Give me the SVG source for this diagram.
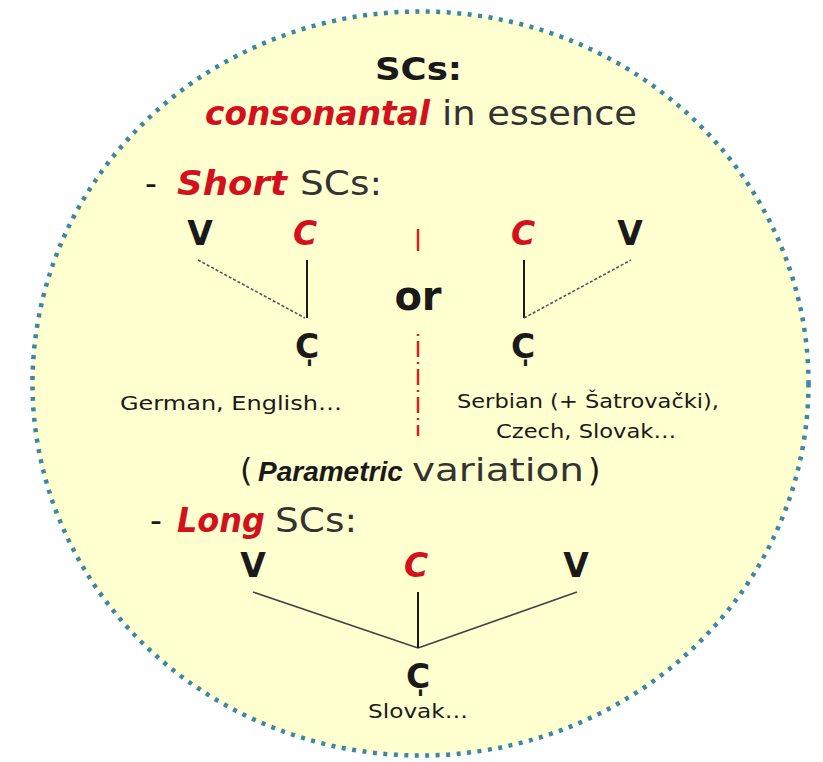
<svg xmlns="http://www.w3.org/2000/svg" width="823" height="762" viewBox="0 0 823 762">
<style>
text{font-family:"DejaVu Sans","Liberation Sans",sans-serif;fill:#1a1a1a}
.red{fill:#d4101c;font-weight:bold;font-style:italic}
.b{font-weight:bold}
.bi{font-weight:bold;font-style:italic;font-family:"Liberation Sans",sans-serif}
.reg{fill:#333}
.seg{font-size:33px;text-anchor:middle;font-weight:bold}
.sm{font-size:20px}
.solid{stroke:#1a1a1a;stroke-width:2;fill:none}
.dot{stroke:#555;stroke-width:1.6;stroke-dasharray:3 2;fill:none}
.thin{stroke:#444;stroke-width:1.6;fill:none}
</style>
<rect width="823" height="762" fill="#ffffff"/>
<g id="circle">
<ellipse cx="420.5" cy="383.5" rx="388" ry="372" fill="#ffffcf" stroke="#3c87a1" stroke-width="4.5" stroke-dasharray="4 6.5"/>
</g>
<g id="title">
<text x="375" y="80" font-size="32" class="b" textLength="87" lengthAdjust="spacingAndGlyphs">SCs:</text>
<text y="125" font-size="34"><tspan x="205" class="red" textLength="225" lengthAdjust="spacingAndGlyphs">consonantal</tspan><tspan x="442" class="reg" textLength="195" lengthAdjust="spacingAndGlyphs">in essence</tspan></text>
</g>
<g id="short-heading">
<text y="195" font-size="33"><tspan x="145">-</tspan><tspan x="177" class="red" textLength="110" lengthAdjust="spacingAndGlyphs">Short</tspan><tspan x="300" class="reg" textLength="82" lengthAdjust="spacingAndGlyphs">SCs:</tspan></text>
</g>
<g id="connectors">
<line class="dot" x1="198" y1="260" x2="305" y2="318"/>
<line class="solid" x1="307" y1="260" x2="307" y2="318"/>
<line class="solid" x1="524" y1="260" x2="524" y2="318"/>
<line class="dot" x1="524" y1="318" x2="631" y2="260"/>
<line x1="418" y1="229" x2="418" y2="251" stroke="#d4202a" stroke-width="2.5"/>
<line x1="418" y1="334" x2="418" y2="436" stroke="#d4202a" stroke-width="2.5" stroke-dasharray="2 5 16 5"/>
<line class="thin" x1="253" y1="592" x2="418" y2="648"/>
<line class="thin" x1="577" y1="592" x2="418" y2="648"/>
<line class="solid" x1="418" y1="592" x2="418" y2="648"/>
</g>
<g id="short-left">
<text class="seg" x="200" y="245">V</text>
<text class="seg red" x="305" y="245">C</text>
<text class="seg" x="307" y="358">C̩</text>
<text class="sm" x="120" y="410" textLength="222" lengthAdjust="spacingAndGlyphs">German, English…</text>
</g>
<g id="or">
<text x="418" y="310" font-size="40" text-anchor="middle" class="b">or</text>
</g>
<g id="short-right">
<text class="seg red" x="523" y="245">C</text>
<text class="seg" x="630" y="245">V</text>
<text class="seg" x="523" y="358">C̩</text>
<text class="sm" x="457" y="408" textLength="262" lengthAdjust="spacingAndGlyphs">Serbian (+ Šatrovački),</text>
<text class="sm" x="496" y="438" textLength="180" lengthAdjust="spacingAndGlyphs">Czech, Slovak…</text>
</g>
<g id="parametric">
<text x="240" y="481" font-size="32">(</text>
<text x="258" y="481" font-size="28" class="bi">Parametric</text>
<text x="412" y="481" font-size="32" class="reg" textLength="172" lengthAdjust="spacingAndGlyphs">variation</text>
<text x="588" y="481" font-size="32">)</text>
</g>
<g id="long-heading">
<text y="532" font-size="33"><tspan x="150">-</tspan><tspan x="177" class="red" textLength="88" lengthAdjust="spacingAndGlyphs">Long</tspan><tspan x="275" class="reg" textLength="82" lengthAdjust="spacingAndGlyphs">SCs:</tspan></text>
</g>
<g id="long">
<text class="seg" x="253" y="577">V</text>
<text class="seg red" x="416" y="577">C</text>
<text class="seg" x="576" y="577">V</text>
<text class="seg" x="418" y="688">C̩</text>
<text class="sm" x="418" y="718" text-anchor="middle" textLength="100" lengthAdjust="spacingAndGlyphs">Slovak…</text>
</g>
</svg>
